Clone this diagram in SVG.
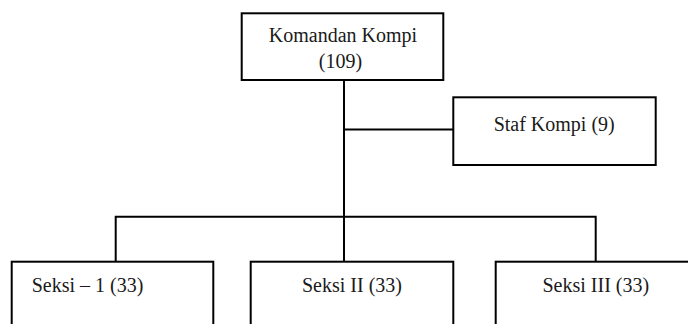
<svg xmlns="http://www.w3.org/2000/svg" width="688" height="324" viewBox="0 0 688 324">
<style>
.box{fill:#fff;stroke:#000;stroke-width:2}
.ln{fill:none;stroke:#000;stroke-width:2}
text{font-family:"Liberation Serif","Times New Roman",serif;font-size:20px;fill:#1a1a1a}
.c{text-anchor:middle}
</style>
<rect width="688" height="324" fill="#fff"/>
<g id="connectors">
<line class="ln" x1="344" y1="80" x2="344" y2="262"/>
<line class="ln" x1="344" y1="129.5" x2="453" y2="129.5"/>
<polyline class="ln" points="115.7,262 115.7,216.7 595.7,216.7 595.7,262"/>
</g>
<g id="komandan">
<rect class="box" x="241.7" y="13.3" width="201.6" height="66.7"/>
<text class="c" x="343" y="41.7">Komandan Kompi</text>
<text class="c" x="340.5" y="68.3">(109)</text>
</g>
<g id="staf">
<rect class="box" x="453.3" y="97.3" width="202.4" height="67.7"/>
<text class="c" x="554.2" y="130.7">Staf Kompi (9)</text>
</g>
<g id="seksi1">
<rect class="box" x="11.7" y="261.7" width="201.6" height="80"/>
<text x="31.7" y="291.7">Seksi – 1 (33)</text>
</g>
<g id="seksi2">
<rect class="box" x="250.7" y="261.7" width="202.6" height="80"/>
<text class="c" x="352" y="291.7">Seksi II (33)</text>
</g>
<g id="seksi3">
<rect class="box" x="495.7" y="261.7" width="210" height="80"/>
<text class="c" x="595.8" y="291.7">Seksi III (33)</text>
</g>
</svg>
